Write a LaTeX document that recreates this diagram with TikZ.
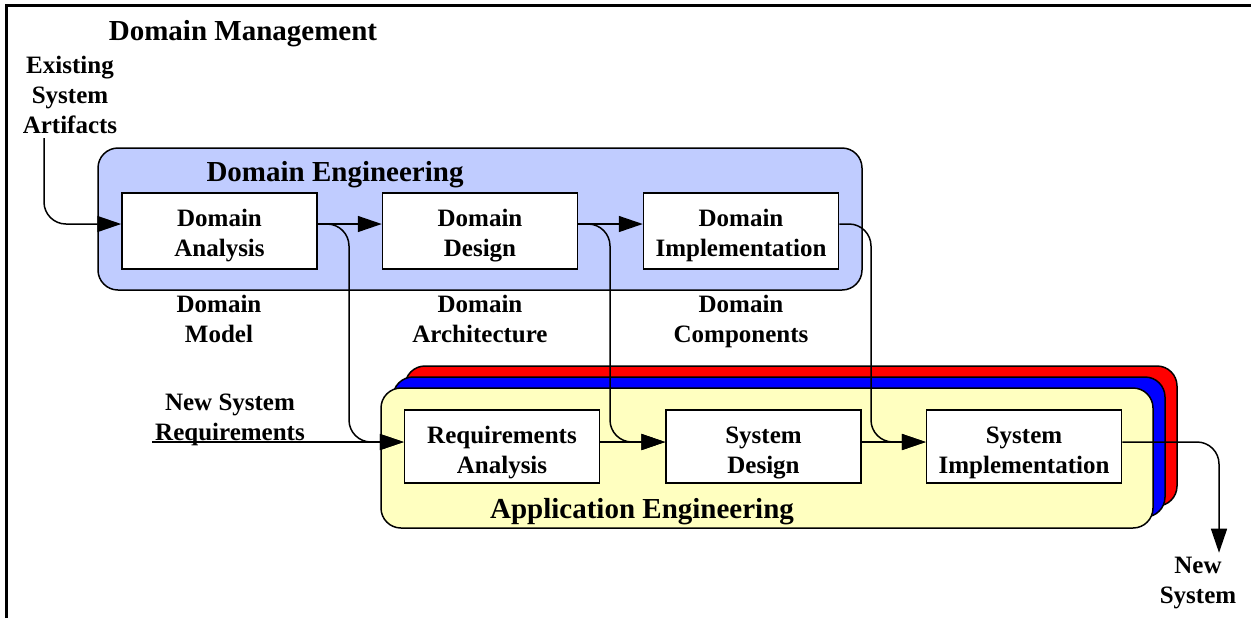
\documentclass[tikz,border=0pt]{standalone}
\usepackage{fontspec}
\setmainfont{Liberation Serif}
\usetikzlibrary{arrows.meta,calc}

\definecolor{engblue}{RGB}{192,204,255}
\definecolor{appyellow}{RGB}{255,255,192}

\tikzset{
  stage/.style={draw, fill=white, line width=0.75pt, minimum width=97.5pt,
    inner sep=0pt, align=center, font=\fontsize{12.5}{15}\selectfont\bfseries},
  % fixed text height/depth pull the two lines a little below the box centre
  dstage/.style={stage, minimum height=38pt, text height=25pt, text depth=0pt},
  astage/.style={stage, minimum height=36.5pt, text height=26.6pt, text depth=0pt},
  note/.style={align=center, inner sep=2pt, font=\fontsize{12.5}{15}\selectfont\bfseries},
  heading/.style={inner sep=0pt, font=\fontsize{14.5}{17}\selectfont\bfseries},
  panel/.style={draw, line width=0.75pt, rounded corners=10pt},
  flow/.style={line width=0.75pt, -{Triangle[length=12pt,width=8pt]}},
  elbow/.style={flow, rounded corners=11pt}
}

\begin{document}
\begin{tikzpicture}[x=0.5pt,y=-0.5pt]
  \useasboundingbox (0,0) rectangle (1251,618);

  % outer frame (only left and top edges are in view)
  \draw[line width=1.5pt] (6,618) -- (6,5) -- (1251,5);
  \node[heading] (dmgmt) at (243,34) {Domain Management};

  % domain engineering panel
  \draw[panel, fill=engblue] (98,148) rectangle (862,290);
  \node[heading] (deng) at (335,175) {Domain Engineering};

  % application engineering: three stacked panels
  \foreach \k/\col in {2/red,1/blue,0/appyellow}
    \draw[panel, fill=\col, shift={({12*\k},{-11*\k})}] (381,388) rectangle (1153,528);
  \node[heading] (aeng) at (642,512) {Application Engineering};

  % process steps
  \node[dstage] (dana) at (219.5,231) {Domain\\Analysis};
  \node[dstage] (ddes) at (480,231) {Domain\\Design};
  \node[dstage] (dimp) at (741,231) {Domain\\Implementation};
  \node[astage] (req) at (502,446.5) {Requirements\\Analysis};
  \node[astage] (sdes) at (763.5,446.5) {System\\Design};
  \node[astage] (simp) at (1024,446.5) {System\\Implementation};

  % inputs, products and outputs
  \node[note] (esa) at (70,95) {Existing\\System\\Artifacts};
  \node[note] (dmod) at (219,319) {Domain\\Model};
  \node[note] (darch) at (480,319) {Domain\\Architecture};
  \node[note] (dcomp) at (741,321) {Domain\\Components};
  \node[note] (nsr) at (230,420) {New System\\Requirements};
  \node[note] (nsys) at (1198,583) {New\\System};
  \coordinate (nsrin) at (152,442);
  \coordinate (drop1) at (349,330);
  \coordinate (drop2) at (610,330);
  \coordinate (drop3) at (871,330);

  % domain row
  \draw[elbow] ([xshift=-13pt]esa.south) |- ([yshift=3.5pt]dana.west);
  \draw[flow] ([yshift=3.5pt]dana.east) -- ([yshift=3.5pt]ddes.west);
  \draw[flow] ([yshift=3.5pt]ddes.east) -- ([yshift=3.5pt]dimp.west);

  % domain products feed the application steps
  \draw[elbow] ([yshift=3.5pt]dana.east) -| (drop1) |- ([yshift=2.25pt]req.west);
  \draw[elbow] ([yshift=3.5pt]ddes.east) -| (drop2) |- ([yshift=2.25pt]sdes.west);
  \draw[elbow] ([yshift=3.5pt]dimp.east) -| (drop3) |- ([yshift=2.25pt]simp.west);

  % application row
  \draw[flow] (nsrin) -- ([yshift=2.25pt]req.west);
  \draw[flow] ([yshift=2.25pt]req.east) -- ([yshift=2.25pt]sdes.west);
  \draw[flow] ([yshift=2.25pt]sdes.east) -- ([yshift=2.25pt]simp.west);
  \draw[elbow] ([yshift=2.25pt]simp.east) -| ([xshift=10.5pt]nsys.north);
\end{tikzpicture}
\end{document}
